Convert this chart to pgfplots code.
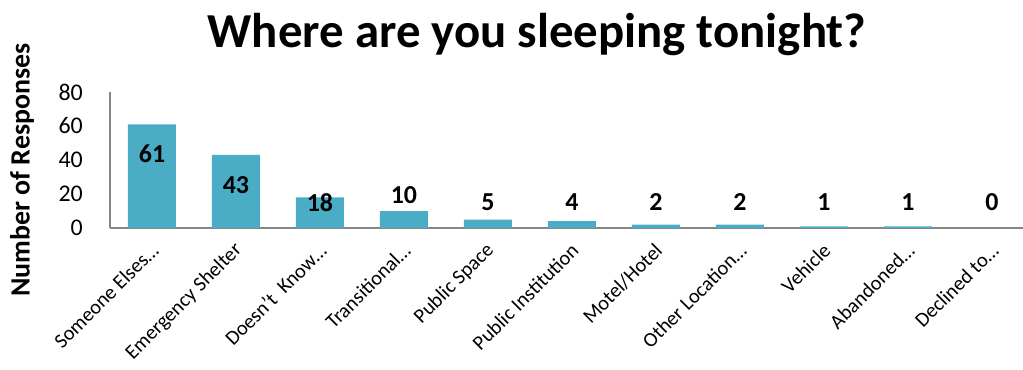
\documentclass[border=0pt]{standalone}
\usepackage{fontspec}
\setmainfont{Carlito}
\usepackage{pgfplots}
\pgfplotsset{compat=1.18}
\definecolor{barc}{HTML}{4BACC6}
\definecolor{axc}{HTML}{868686}
\begin{document}
\begin{tikzpicture}[x=1bp,y=1bp]
\path[use as bounding box] (0,0) rectangle (1023,369);
\begin{axis}[
  at={(110bp,141bp)}, anchor=south west,
  scale only axis, width=913bp, height=136bp,
  xmin=-0.5, xmax=10.37, ymin=0, ymax=80,
  axis lines=left, axis line style={-, axc, line width=1.2bp},
  ytick={0,20,40,60,80}, major tick length=0pt,
  xtick={0,...,10},
  xticklabels={Someone Elses…,Emergency Shelter,Doesn’t\ \ Know…,Transitional…,Public Space,Public Institution,Motel/Hotel,Other Location…,Vehicle,Abandoned…,Declined to…},
  xticklabel style={font=\fontsize{20.5}{23}\selectfont, xshift=3bp, yshift=-19bp, rotate=45, anchor=east, inner sep=0pt},
  yticklabel style={font=\fontsize{24}{26}\selectfont, inner sep=0pt, xshift=-27bp, anchor=east},
  /pgf/number format/assume math mode=true,
  clip=false,
]
\addplot[ybar, bar width=48bp, fill=barc, draw=none, bar shift=0pt] coordinates {
(0,61) (1,43) (2,18) (3,10) (4,5) (5,4) (6,2) (7,2) (8,1) (9,1) (10,0)};
\addplot[only marks, mark=none, nodes near coords, point meta=explicit symbolic,
  nodes near coords style={anchor=center, font=\bfseries\fontsize{26}{28}\selectfont, inner sep=0pt}] table[meta=lab] {
x y lab
0 43.4 61
1 25.2 43
2 15.2 18
3 19.4 10
4 15.2 5
5 15.2 4
6 15.2 2
7 15.2 2
8 15.2 1
9 15.2 1
10 15.2 0
};
\end{axis}
\node[rotate=90, font=\bfseries\fontsize{28}{30}\selectfont, inner sep=0pt] at (22,199) {Number of Responses};
\node[anchor=base, font=\bfseries\fontsize{49}{52}\selectfont, inner sep=0pt] at (537,322) {Where are you sleeping tonight?};
\end{tikzpicture}
\end{document}
